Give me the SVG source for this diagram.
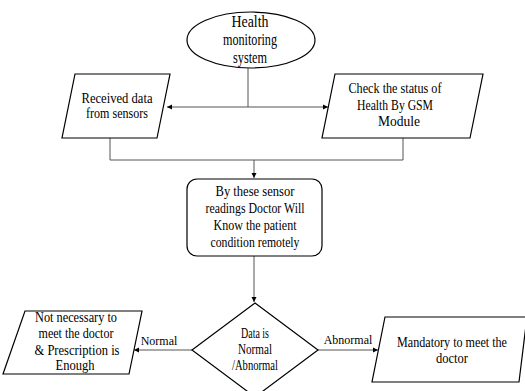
<svg xmlns="http://www.w3.org/2000/svg" width="525" height="391" viewBox="0 0 525 391">
<style>
.shape{fill:#fff;stroke:#000;stroke-width:1.2}
.t{font-family:"Liberation Serif","Times New Roman",serif;font-size:14px;fill:#000;text-anchor:middle}
.big{font-size:16px}
.lbl{font-family:"Liberation Serif","Times New Roman",serif;font-size:12px;fill:#000;text-anchor:middle}
.c{fill:none;stroke:#555;stroke-width:1}
</style>
<defs>
<marker id="ah" markerWidth="6" markerHeight="6" refX="5" refY="3" orient="auto" markerUnits="userSpaceOnUse">
<path d="M0,0.5 L5,3 L0,5.5 Z" fill="#000"/>
</marker>
<marker id="ahs" markerWidth="6" markerHeight="6" refX="0" refY="3" orient="auto" markerUnits="userSpaceOnUse">
<path d="M5,0.5 L0,3 L5,5.5 Z" fill="#000"/>
</marker>
</defs>
<rect width="525" height="391" fill="#fff"/>
<g id="connectors">
<path class="c" d="M248,68 V107"/>
<path class="c" d="M167,107 H328" marker-start="url(#ahs)" marker-end="url(#ah)"/>
<path class="c" d="M110,138 V160 H403 V138"/>
<path class="c" d="M254,160 V178" marker-end="url(#ah)"/>
<path class="c" d="M254,256 V302" marker-end="url(#ah)"/>
<path class="c" d="M192,350 H134" marker-end="url(#ah)"/>
<path class="c" d="M318,350 H378" marker-end="url(#ah)"/>
<text class="lbl" x="159" y="345">Normal</text>
<text class="lbl" x="348" y="344">Abnormal</text>
</g>
<g id="start">
<ellipse class="shape" cx="251" cy="40" rx="64" ry="28"/>
<text class="t big" x="250" y="27" textLength="37" lengthAdjust="spacingAndGlyphs">Health</text>
<text class="t big" x="250" y="45" textLength="54" lengthAdjust="spacingAndGlyphs">monitoring</text>
<text class="t big" x="250" y="63" textLength="34" lengthAdjust="spacingAndGlyphs">system</text>
</g>
<g id="received">
<polygon class="shape" points="75,74 170,74 157,138 62,138"/>
<text class="t" x="117" y="103" textLength="71" lengthAdjust="spacingAndGlyphs">Received data</text>
<text class="t" x="117" y="118" textLength="62" lengthAdjust="spacingAndGlyphs">from sensors</text>
</g>
<g id="check">
<polygon class="shape" points="335,74 483,74 470,138 322,138"/>
<text class="t" x="395" y="93" textLength="93" lengthAdjust="spacingAndGlyphs">Check the status of</text>
<text class="t" x="395" y="110" textLength="76" lengthAdjust="spacingAndGlyphs">Health By GSM</text>
<text class="t" x="399" y="126" textLength="42" lengthAdjust="spacingAndGlyphs">Module</text>
</g>
<g id="doctor">
<rect class="shape" x="187" y="179" width="135" height="77" rx="10"/>
<text class="t" x="255" y="196" textLength="79" lengthAdjust="spacingAndGlyphs">By these sensor</text>
<text class="t" x="255" y="213" textLength="99" lengthAdjust="spacingAndGlyphs">readings Doctor Will</text>
<text class="t" x="255" y="230" textLength="83" lengthAdjust="spacingAndGlyphs">Know the patient</text>
<text class="t" x="255" y="247" textLength="89" lengthAdjust="spacingAndGlyphs">condition remotely</text>
</g>
<g id="decision">
<polygon class="shape" points="255,303 318,350 255,397 192,350"/>
<text class="t" x="255" y="338" textLength="28" lengthAdjust="spacingAndGlyphs">Data is</text>
<text class="t" x="255" y="354" textLength="34" lengthAdjust="spacingAndGlyphs">Normal</text>
<text class="t" x="255" y="370" textLength="46" lengthAdjust="spacingAndGlyphs">/Abnormal</text>
</g>
<g id="normal">
<polygon class="shape" points="25,311 142,311 129,374 3,374"/>
<text class="t" x="76" y="322" textLength="82" lengthAdjust="spacingAndGlyphs">Not necessary to</text>
<text class="t" x="76" y="338" textLength="75" lengthAdjust="spacingAndGlyphs">meet the doctor</text>
<text class="t" x="77" y="355" textLength="85" lengthAdjust="spacingAndGlyphs">&amp; Prescription is</text>
<text class="t" x="75" y="370" textLength="39" lengthAdjust="spacingAndGlyphs">Enough</text>
</g>
<g id="abnormal">
<polygon class="shape" points="385,317 527,317 519,382 372,382"/>
<text class="t" x="452" y="347" textLength="110" lengthAdjust="spacingAndGlyphs">Mandatory to meet the</text>
<text class="t" x="452" y="363" textLength="32" lengthAdjust="spacingAndGlyphs">doctor</text>
</g>
</svg>
